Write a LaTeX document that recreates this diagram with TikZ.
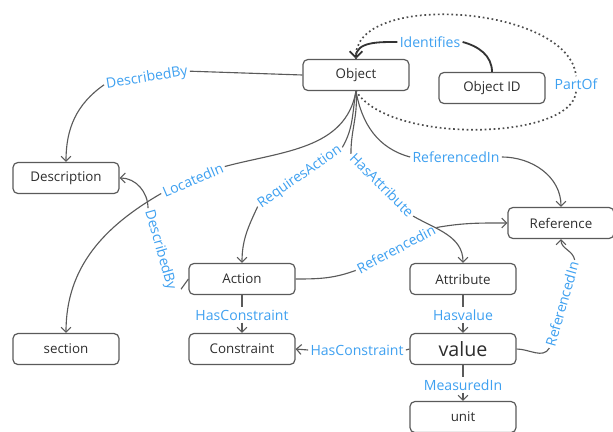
\documentclass[tikz,border=0pt]{standalone}
\usepackage{fontspec}
\setmainfont{Open Sans}
\usetikzlibrary{positioning,arrows.meta}
\definecolor{relblue}{RGB}{62,160,240}
\definecolor{edgegray}{RGB}{90,90,90}
\definecolor{boxtext}{RGB}{45,45,45}
\tikzstyle{entity} = [draw=edgegray, rectangle, rounded corners=3.5pt, line width=0.85pt, text=boxtext, font=\fontsize{9.5}{11}\selectfont, minimum width=2.65cm, minimum height=0.775cm, text centered]
\tikzstyle{rel} = [text=relblue, font=\fontsize{10}{12}\selectfont, inner sep=1.5pt]
\tikzstyle{link} = [draw=edgegray, line width=0.8pt]
\tikzstyle{line} = [link, -{Straight Barb[length=3.5pt,width=7pt]}]
\tikzstyle{idlink} = [draw=black!80, line width=1.3pt]
\tikzstyle{idline} = [idlink, -{Straight Barb[length=4.5pt,width=9pt]}]
\tikzstyle{partof} = [draw=black!70, line width=1.2pt, dotted]

\begin{document}
\begin{tikzpicture}[x=0.025cm, y=0.025cm, node distance=1.75cm]
    \useasboundingbox (0,0) rectangle (613,-432);

    % Place nodes
    \node [entity] (object) at (356,-75) {Object};
    \node [entity] (object-id) at (492,-88) {Object ID};
    \node [entity] (description) at (66,-178) {Description};
    \node [entity, below of=description, node distance=4.275cm] (section) {section};
    \node [entity] (action) at (242,-279) {Action};
    \node [entity, below of=action] (constraint) {Constraint};
    \node [entity] (reference) at (561,-223) {Reference};
    \node [entity] (attribute) at (463,-279) {Attribute};
    \node [entity, below of=attribute] (value) {\fontsize{14}{16}\selectfont value};
    \node [entity, below of=value, node distance=1.7cm] (unit) {unit};

    % Relation labels
    \node [rel] (identifies) at (430,-42) {Identifies};
    \node [rel] (partof-lbl) at (576,-84) {PartOf};
    \node [rel, rotate=9] (describedby-obj) at (147,-78) {DescribedBy};
    \node [rel, rotate=23] (locatedin) at (193,-180) {LocatedIn};
    \node [rel, rotate=-74] (describedby-act) at (160,-250) {DescribedBy};
    \node [rel, rotate=35] (requiresaction) at (300,-177) {RequiresAction};
    \node [rel, rotate=-45] (hasattribute) at (382,-185) {HasAttribute};
    \node [rel] (referencedin-obj) at (456,-157) {ReferencedIn};
    \node [rel, rotate=28] (referencedin-act) at (396,-249) {Referencedin};
    \node [rel] (hasconstraint-act) at (242,-315) {HasConstraint};
    \node [rel] (hasconstraint-val) at (357,-350) {HasConstraint};
    \node [rel] (hasvalue) at (463,-315) {Hasvalue};
    \node [rel, rotate=74] (referencedin-val) at (562,-304) {ReferencedIn};
    \node [rel] (measuredin) at (463,-385) {MeasuredIn};

    % Draw edges
    \path [idlink] (object-id.north) to[out=90,in=-15] (identifies.east);
    \path [idline] (identifies.west) to[out=180,in=90] (object.north);

    % dotted loop round Object ID
    \path [partof] (object.north) .. controls (350,10) and (570,-5) .. (partof-lbl.north);
    \path [partof] (partof-lbl.south) .. controls (572,-140) and (390,-145) .. (object.south);

    \path [link] (object.west) -- (describedby-obj.east);
    \path [line] (describedby-obj.west) to[out=215,in=90] (description.north);

    \path [link] (object.south) to[out=-100,in=15] (locatedin.east);
    \path [line] (locatedin.west) to[out=210,in=90] (section.north);

    \path [link] (action.west) -- (describedby-act.north east);
    \path [line] (describedby-act.west) to[out=90,in=0] (description.east);

    \path [link] (object.south) to[out=-100,in=60] (requiresaction.east);
    \path [line] (requiresaction.west) to[out=245,in=90] (action.north);

    \path [link] (object.south) to[out=-85,in=90] (hasattribute.west);
    \path [line] (hasattribute.east) to[out=-30,in=90] (attribute.north);

    \path [link] (object.south) to[out=-80,in=165] (referencedin-obj.west);
    \path [line] (referencedin-obj.east) to[out=0,in=90] (reference.north);

    \path [link] (action.east) to[out=0,in=200] (referencedin-act.west);
    \path [line] (referencedin-act.east) to[out=10,in=180] (reference.west);

    \path [link] (action.south) -- (hasconstraint-act.north);
    \path [line] (hasconstraint-act.south) -- (constraint.north);

    \path [link] (value.west) -- (hasconstraint-val.east);
    \path [line] (hasconstraint-val.west) -- (constraint.east);

    \path [link] (attribute.south) -- (hasvalue.north);
    \path [line] (hasvalue.south) -- (value.north);

    \path [link] (value.east) to[out=0,in=240] (referencedin-val.west);
    \path [line] (referencedin-val.east) to[out=100,in=-90] (reference.south);

    \path [link] (value.south) -- (measuredin.north);
    \path [line] (measuredin.south) -- (unit.north);
\end{tikzpicture}
\end{document}
